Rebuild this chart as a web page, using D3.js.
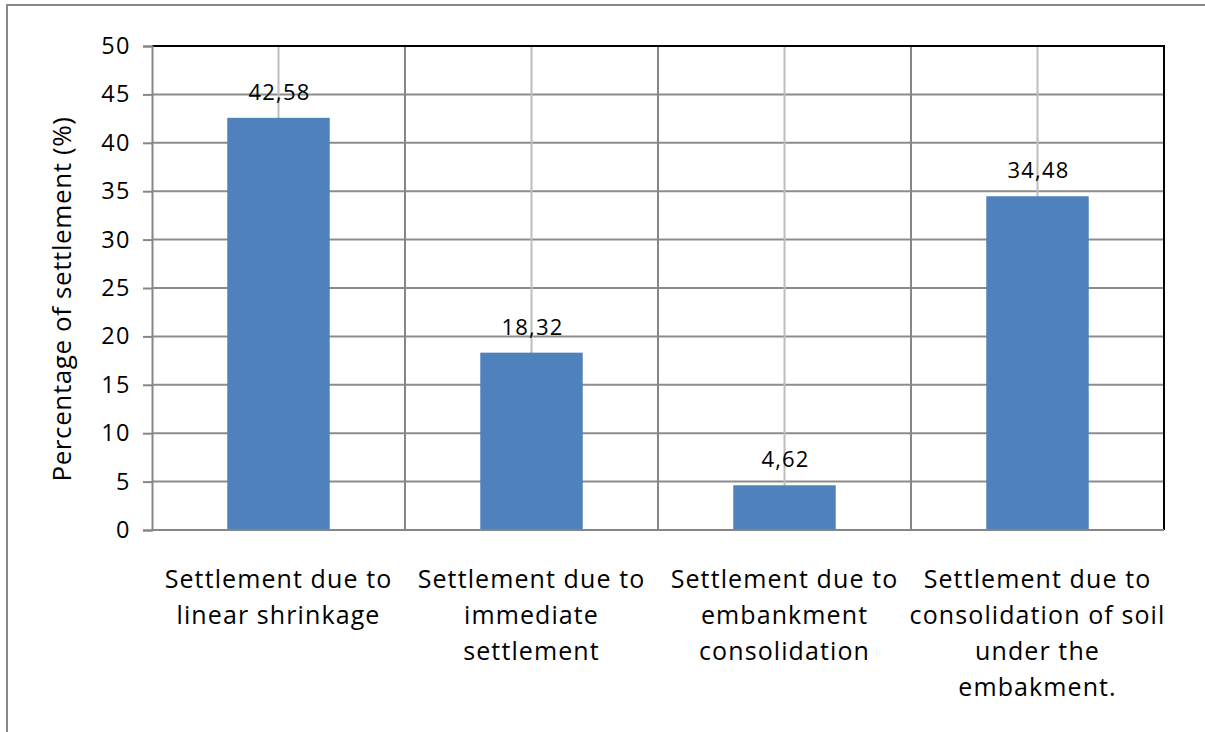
<!DOCTYPE html>
<html><head><meta charset="utf-8">
<script src="https://cdn.jsdelivr.net/npm/d3@7"></script>
<style>body{margin:0;background:#fff}svg{display:block}text{font-family:"Open Sans",sans-serif;fill:#000}</style>
</head><body>
<script>
const categories = [
  ["Settlement due to","linear shrinkage"],
  ["Settlement due to","immediate","settlement"],
  ["Settlement due to","embankment","consolidation"],
  ["Settlement due to","consolidation of soil","under the","embakment."]
];
const values = [42.58, 18.32, 4.62, 34.48];
const valueLabels = ["42,58","18,32","4,62","34,48"];
const yTicks = [0,5,10,15,20,25,30,35,40,45,50];
const yTitle = "Percentage of settlement (%)";

const W=1205,H=732;
const svg=d3.select("body").append("svg").attr("width",W).attr("height",H);
svg.append("rect").attr("x",7).attr("y",5).attr("width",W+20).attr("height",H+20)
  .attr("fill","#fff").attr("stroke","#888").attr("stroke-width",2);

const m={l:152,r:1164,t:46,b:530};
const x=d3.scaleBand().domain(d3.range(categories.length)).range([m.l,m.r]).padding(0);
const y=d3.scaleLinear().domain([0,50]).range([m.b,m.t]);

svg.append("g").selectAll("line").data(yTicks.slice(1)).join("line")
  .attr("x1",m.l).attr("x2",m.r).attr("y1",d=>y(d)).attr("y2",d=>y(d))
  .attr("stroke","#8c8c8c").attr("stroke-width",2);
svg.append("g").selectAll("line").data(d3.range(categories.length)).join("line")
  .attr("x1",d=>x(d)+x.bandwidth()/2).attr("x2",d=>x(d)+x.bandwidth()/2)
  .attr("y1",m.t).attr("y2",m.b).attr("stroke","#bdbdbd").attr("stroke-width",2);
svg.append("g").selectAll("line").data(d3.range(1,categories.length)).join("line")
  .attr("x1",d=>x(d)).attr("x2",d=>x(d)).attr("y1",m.t).attr("y2",m.b)
  .attr("stroke","#868686").attr("stroke-width",2);

const bw=x.bandwidth()*0.405;
svg.append("g").selectAll("rect").data(values).join("rect")
  .attr("x",(d,i)=>x(i)+x.bandwidth()/2-bw/2).attr("width",bw)
  .attr("y",d=>y(d)).attr("height",d=>y(0)-y(d)).attr("fill","#4f81bd");

svg.append("line").attr("x1",m.l).attr("x2",m.r+1).attr("y1",m.t).attr("y2",m.t).attr("stroke","#000").attr("stroke-width",2);
svg.append("line").attr("x1",m.r).attr("x2",m.r).attr("y1",m.t).attr("y2",m.b).attr("stroke","#000").attr("stroke-width",2);

const yAxis=d3.axisLeft(y).tickValues(yTicks).tickSize(9).tickPadding(12).tickFormat(d3.format("d"));
const ya=svg.append("g").attr("transform",`translate(${m.l},0)`).call(yAxis);
ya.select(".domain").attr("stroke","#868686").attr("stroke-width",2);
ya.selectAll(".tick line").attr("stroke","#868686").attr("stroke-width",2);
ya.selectAll(".tick text").attr("font-size",23.5).attr("letter-spacing",1.5)
  .attr("font-family","'Open Sans',sans-serif").attr("fill","#000");
svg.append("line").attr("x1",m.l).attr("x2",m.r).attr("y1",m.b).attr("y2",m.b).attr("stroke","#868686").attr("stroke-width",2);

svg.append("g").selectAll("text").data(values).join("text")
  .attr("x",(d,i)=>x(i)+x.bandwidth()/2+1).attr("y",d=>y(d)-18)
  .attr("text-anchor","middle").attr("font-size",22).attr("letter-spacing",1.2).text((d,i)=>valueLabels[i]);

const cl=svg.append("g").selectAll("text").data(categories).join("text")
  .attr("text-anchor","middle").attr("font-size",25).attr("letter-spacing",1.1)
  .attr("transform",(d,i)=>`translate(${x(i)+x.bandwidth()/2},588)`);
cl.selectAll("tspan").data(d=>d).join("tspan").attr("x",0).attr("y",(d,j)=>j*36).text(d=>d);

svg.append("text").attr("transform",`translate(71,${(m.t+m.b)/2+11}) rotate(-90)`)
  .attr("text-anchor","middle").attr("font-size",26).attr("letter-spacing",0.6).text(yTitle);
</script>
</body></html>
